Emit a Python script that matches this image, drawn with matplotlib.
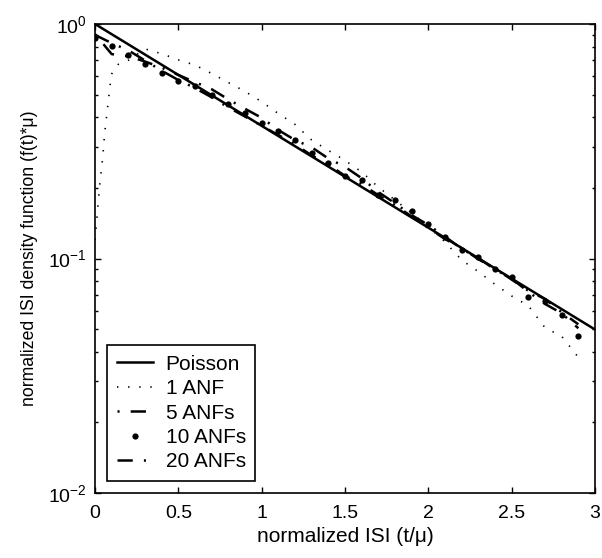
import numpy as np
import matplotlib
matplotlib.use("Agg")
import matplotlib.pyplot as plt

plt.rcParams['font.family'] = ['Liberation Sans', 'DejaVu Sans']
plt.rcParams['lines.scale_dashes'] = False

# shared grid for the noisy ISI histograms
x_grid = [0.0, 0.1, 0.2, 0.3, 0.4, 0.5, 0.6, 0.7, 0.8, 0.9,
          1.0, 1.1, 1.2, 1.3, 1.4, 1.5, 1.6, 1.7, 1.8, 1.9,
          2.0, 2.1, 2.2, 2.3, 2.4, 2.5, 2.6, 2.7, 2.8, 2.9]

# 1 ANF: dead-time shaped density (finer near zero)
x_1anf = [0.0, 0.006, 0.018, 0.03, 0.046, 0.058, 0.074, 0.09, 0.1, 0.14, 0.2,
          0.3, 0.4, 0.5, 0.6, 0.7, 0.8, 0.9, 1.0, 1.1, 1.2, 1.3, 1.4, 1.5,
          1.6, 1.7, 1.8, 1.9, 2.0, 2.1, 2.2, 2.3, 2.4, 2.5, 2.6, 2.7, 2.8, 2.9]
y_1anf = [0.12, 0.134, 0.169, 0.212, 0.268, 0.343, 0.43, 0.544, 0.612, 0.673, 0.70,
          0.783, 0.747, 0.703, 0.668, 0.615, 0.563, 0.516, 0.466, 0.415, 0.373, 0.320,
          0.289, 0.262, 0.234, 0.2015, 0.1776, 0.1563, 0.1366, 0.1177, 0.0985, 0.0879,
          0.0776, 0.0692, 0.0629, 0.0507, 0.0466, 0.0379]

y_5anf = [0.906, 0.744, 0.728, 0.692, 0.651, 0.6065, 0.565, 0.527, 0.477, 0.435,
          0.398, 0.353, 0.320, 0.298, 0.267, 0.246, 0.220, 0.192, 0.172, 0.153,
          0.139, 0.124, 0.110, 0.1003, 0.0898, 0.0821, 0.0721, 0.0640, 0.0584, 0.0504]

y_10anf = [0.874, 0.803, 0.740, 0.678, 0.617, 0.573, 0.543, 0.498, 0.456, 0.419,
           0.379, 0.350, 0.320, 0.281, 0.256, 0.225, 0.216, 0.186, 0.178, 0.160,
           0.140, 0.1237, 0.1087, 0.1013, 0.0898, 0.0837, 0.0686, 0.0661, 0.0574, 0.0469]

y_20anf = [0.898, 0.829, 0.772, 0.699, 0.632, 0.577, 0.533, 0.487, 0.441, 0.403,
           0.368, 0.336, 0.307, 0.275, 0.252, 0.225, 0.208, 0.186, 0.169, 0.151,
           0.135, 0.121, 0.111, 0.0993, 0.0907, 0.0813, 0.0729, 0.0672, 0.0590, 0.0524]

# Poisson reference exp(-t), endpoints of the straight line on log axis
x_pois = [0.0, 3.0]
y_pois = [1.0, 0.0498]

fig = plt.figure(figsize=(6.02, 5.58), dpi=100)
ax = fig.add_axes([95 / 602, 1 - 493 / 558, 500 / 602, 469 / 558])

ax.plot(x_pois, y_pois, '-', color='k', lw=1.8, label='Poisson')
ax.plot(x_1anf, y_1anf, color='k', lw=1.2, linestyle=(0, (1, 7)), label='1 ANF')
ax.plot(x_grid, y_5anf, color='k', lw=1.8, linestyle=(19, (11, 8, 1.5, 8)), label='5 ANFs')
ax.plot(x_grid, y_10anf, 'o', color='k', ms=4.5, mew=0, label='10 ANFs')
ax.plot(x_grid, y_20anf, color='k', lw=1.8, linestyle=(0, (11, 8, 1.5, 8)), label='20 ANFs')

ax.set_yscale('log')
ax.set_xlim(0, 3)
ax.set_ylim(1e-2, 1)
ax.set_xticks([0, 0.5, 1, 1.5, 2, 2.5, 3])
ax.set_xticklabels(['0', '0.5', '1', '1.5', '2', '2.5', '3'])
ax.tick_params(which='both', direction='in', top=True, right=True, labelsize=14)
ax.tick_params(which='major', length=4, width=1)
ax.tick_params(which='minor', length=2.5, width=1)
ax.tick_params(axis='x', pad=9)
ax.tick_params(axis='y', pad=6)
for s in ax.spines.values():
    s.set_linewidth(1.2)

ax.set_xlabel('normalized ISI (t/\u03bc)', fontsize=15, labelpad=3)
ax.set_ylabel('normalized ISI density function (f(t)*\u03bc)', fontsize=12.7, labelpad=7)

leg = ax.legend(loc='lower left', bbox_to_anchor=(0.0246, 0.026), borderaxespad=0,
                fontsize=15, fancybox=False, edgecolor='k', framealpha=1,
                handlelength=1.73, handletextpad=0.62, labelspacing=0.26, borderpad=0.45)
leg.get_frame().set_linewidth(1.2)

fig.savefig('out.png', dpi=100)
